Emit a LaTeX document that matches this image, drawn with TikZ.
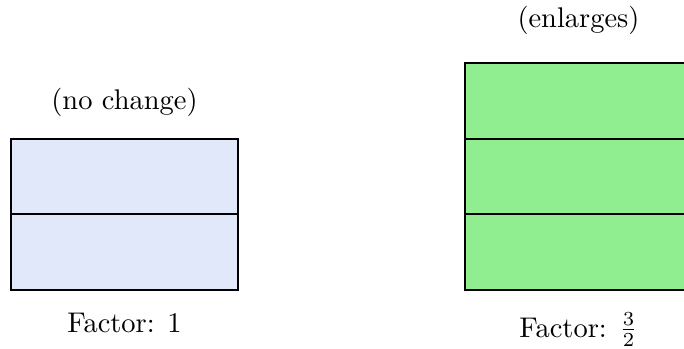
\documentclass[tikz,border=0pt]{standalone}
\definecolor{cellblue}{RGB}{224,232,250}
\definecolor{cellgreen}{RGB}{144,238,144}
\tikzset{
  cell/.style={draw=black, line width=0.6pt, inner sep=0pt, minimum width=79.8pt, minimum height=26.5pt},
  lab/.style={anchor=base, inner sep=0pt}
}
\begin{document}
\begin{tikzpicture}[x=0.35146pt, y=-0.35146pt]
\clip (0,0) rectangle (684,349);
% left box
\node[cell, fill=cellblue] (l1) at (124.5,176.5) {};
\node[cell, fill=cellblue] (l2) at (124.5,252) {};
\node[lab] (lt) at (124.5,110) {(no change)};
\node[lab] (lb) at (124.5,332) {Factor: 1};
% right box
\node[cell, fill=cellgreen] (r1) at (578.5,101) {};
\node[cell, fill=cellgreen] (r2) at (578.5,176.5) {};
\node[cell, fill=cellgreen] (r3) at (578.5,252) {};
\node[lab] (rt) at (578.5,28) {(enlarges)};
\node[lab] (rb) at (578.5,337) {Factor: $\frac{3}{2}$};
\end{tikzpicture}
\end{document}
